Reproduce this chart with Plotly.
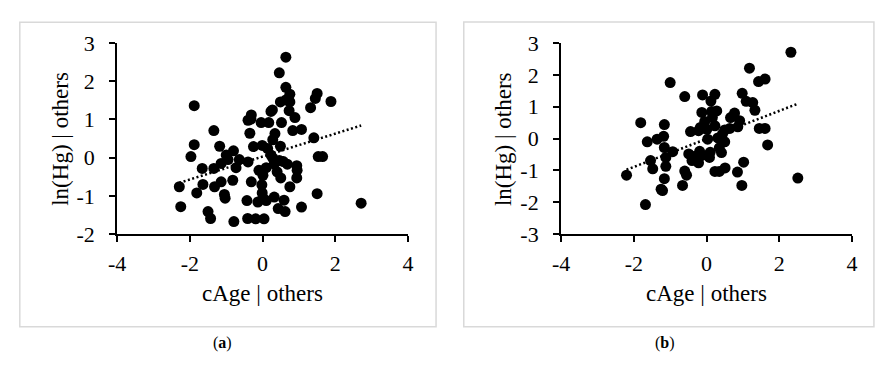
import numpy as np
import plotly.graph_objects as go

# ---- data ----
xa = [0.64, 0.46, 0.64, 0.75, 0.49, 0.64, 0.75, 1.50, 1.45, 1.88, 1.32, -1.88, 0.73, 0.23, 0.27,
      -0.31, -0.32, -0.40, -0.04, 0.17, 0.52, 0.89, 0.83, 1.07, -1.34, -0.35, 0.34, 0.28, 1.41,
      -1.88, -1.18, -0.25, -0.01, 0.14, 0.49, -1.97, -0.80, -1.00, 0.23, 0.28, 1.53, 1.65,
      -1.14, -0.95, -0.64, -0.40, 0.32, 0.46, 0.68, 0.57, 0.94, 0.95, -1.66, -1.34, -0.73,
      -0.10, 0.10, 0.01, 0.40, 0.50, 0.94, -2.29, -1.64, -1.32, -1.14, -0.82, -0.31, -0.02,
      0.75, -1.81, -1.05, -1.03, -0.01, 0.32, 1.50, -0.43, -0.13, 0.10, 0.01, 0.59, 2.71,
      -2.25, 0.43, 0.62, 1.07, -1.50, -1.43, -0.79, -0.41, -0.19, 0.04]
ya = [2.63, 2.22, 1.84, 1.66, 1.46, 1.51, 1.46, 1.68, 1.55, 1.47, 1.31, 1.36, 1.23, 1.21, 1.25,
      1.12, 1.01, 0.98, 0.92, 0.92, 0.92, 1.05, 0.71, 0.74, 0.71, 0.64, 0.63, 0.47, 0.52,
      0.34, 0.30, 0.29, 0.32, 0.24, 0.30, 0.03, 0.18, 0.07, 0.07, -0.01, 0.03, 0.03,
      -0.15, -0.05, -0.05, -0.11, -0.17, -0.07, -0.17, -0.10, -0.21, -0.33, -0.28, -0.28, -0.26,
      -0.33, -0.26, -0.46, -0.37, -0.53, -0.53, -0.76, -0.70, -0.76, -0.63, -0.59, -0.63, -0.71,
      -0.76, -0.92, -0.96, -1.06, -0.92, -1.03, -0.94, -1.12, -1.16, -1.12, -1.05, -1.11, -1.19,
      -1.28, -1.33, -1.41, -1.29, -1.41, -1.59, -1.67, -1.59, -1.60, -1.60]

xb = [2.32, 1.18, 1.43, 1.61, -1.00, -0.60, -0.11, 0.23, 0.12, 0.98, 1.09, 1.27, 1.33, -0.13,
      0.14, 0.28, 0.77, 0.66, -1.81, -1.16, -0.05, 0.16, 0.91, 0.23, -0.17, -0.44, -0.22, 0.01,
      0.86, 0.50, 0.64, 1.45, 1.61, 0.44, -1.18, -1.36, -1.63, 0.03, 0.31, 0.50, 0.35, -1.16,
      -0.93, 1.68, -0.49, -0.19, 0.10, 0.41, -1.12, -0.35, -0.13, 0.08, -1.54, -0.22, -0.40,
      -1.48, -1.12, 1.02, -0.60, -0.55, 0.23, 0.35, 0.51, 0.85, -2.20, -1.16, -0.66, 0.97,
      2.51, -1.25, -1.21, -1.68]
yb = [2.71, 2.21, 1.79, 1.87, 1.76, 1.32, 1.37, 1.39, 1.18, 1.42, 1.17, 1.13, 0.89, 0.82,
      0.85, 0.87, 0.80, 0.66, 0.50, 0.44, 0.54, 0.66, 0.56, 0.40, 0.35, 0.22, 0.25, 0.29,
      0.37, 0.27, 0.32, 0.32, 0.32, 0.15, 0.07, -0.02, -0.10, -0.02, 0.02, -0.10, -0.29, -0.28,
      -0.41, -0.20, -0.48, -0.40, -0.43, -0.44, -0.59, -0.56, -0.53, -0.59, -0.69, -0.76, -0.69,
      -0.95, -0.87, -0.74, -1.02, -1.15, -1.03, -1.03, -0.92, -1.05, -1.15, -1.26, -1.47, -1.47,
      -1.24, -1.59, -1.63, -2.07]

# linear trendlines (slope, intercept)
trend_a = (0.30, 0.03)
trend_b = (0.44, -0.01)

x_ticks = [-4, -2, 0, 2, 4]
x_ticktext = ["-4", "-2", "0", "2", "4"]
ya_ticks = [-2, -1, 0, 1, 2, 3]
ya_ticktext = ["-2", "-1", "0", "1", "2", "3"]
yb_ticks = [-3, -2, -1, 0, 1, 2, 3]
yb_ticktext = ["-3", "-2", "-1", "0", "1", "2", "3"]

x_title = "cAge | others"
y_title = "ln(Hg) | others"
captions = ["(<b>a</b>)", "(<b>b</b>)"]

# ---- figure ----
W, H = 876, 365
FONT = "Liberation Serif"

fig = go.Figure()

def trend_xy(x, coef):
    xs = np.array([min(x), max(x)])
    return xs, coef[0] * xs + coef[1]

for (xs, ys, coef, xa_id, ya_id) in [(xa, ya, trend_a, "x", "y"), (xb, yb, trend_b, "x2", "y2")]:
    fig.add_trace(go.Scatter(x=xs, y=ys, mode="markers", xaxis=xa_id, yaxis=ya_id,
                             marker=dict(size=11, color="black"), showlegend=False,
                             hoverinfo="skip"))
    tx, ty = trend_xy(xs, coef)
    fig.add_trace(go.Scatter(x=tx, y=ty, mode="lines", xaxis=xa_id, yaxis=ya_id,
                             line=dict(color="black", width=2.5, dash="2px,2.5px"),
                             showlegend=False, hoverinfo="skip"))

def px_x(p):
    return p / W

def px_y(p):
    return 1 - p / H

axis_common = dict(showline=True, linecolor="black", linewidth=2, mirror=False,
                   ticks="outside", ticklen=6, tickwidth=1.5, tickcolor="black",
                   showgrid=False, zeroline=False,
                   tickfont=dict(family=FONT, size=22, color="black"))

fig.update_layout(
    width=W, height=H,
    margin=dict(l=0, r=0, t=0, b=0),
    paper_bgcolor="white", plot_bgcolor="white",
    font=dict(family=FONT, color="black"),
    xaxis=dict(domain=[px_x(110), px_x(406)], range=[-4, 4], tickvals=x_ticks,
               ticktext=x_ticktext, anchor="y", ticklabelstandoff=2, **axis_common),
    yaxis=dict(domain=[px_y(238.5), px_y(33.3)], range=[-2, 3], tickvals=ya_ticks,
               ticktext=ya_ticktext, anchor="x", ticklabelstandoff=10, **axis_common),
    xaxis2=dict(domain=[px_x(561.7), px_x(857.7)], range=[-4, 4], tickvals=x_ticks,
                ticktext=x_ticktext, anchor="y2", ticklabelstandoff=2, **axis_common),
    yaxis2=dict(domain=[px_y(238.5), px_y(33.3)], range=[-3, 3], tickvals=yb_ticks,
                ticktext=yb_ticktext, anchor="x2", ticklabelstandoff=10, **axis_common),
)

# panel boxes
fig.add_shape(type="rect", xref="paper", yref="paper",
              x0=px_x(11), x1=px_x(434.5), y0=px_y(338), y1=px_y(11),
              line=dict(color="#d9d9d9", width=1.5), layer="below")
fig.add_shape(type="rect", xref="paper", yref="paper",
              x0=px_x(462.7), x1=px_x(880), y0=px_y(338), y1=px_y(10.7),
              line=dict(color="#d9d9d9", width=1.5), layer="below")

tfont = dict(family=FONT, size=23, color="black")
# axis titles
for cx, cy_x in [(258, 302), (709.7, 302)]:
    fig.add_annotation(text=x_title, xref="paper", yref="paper", x=px_x(cx), y=px_y(cy_x),
                       showarrow=False, font=tfont, xanchor="center", yanchor="middle")
for cx in [53, 503]:
    fig.add_annotation(text=y_title, xref="paper", yref="paper", x=px_x(cx), y=px_y(136),
                       showarrow=False, font=tfont, textangle=-90,
                       xanchor="center", yanchor="middle")
# captions
for cx, txt in zip([217, 667], captions):
    fig.add_annotation(text=txt, xref="paper", yref="paper", x=px_x(cx), y=px_y(355),
                       showarrow=False, font=dict(family=FONT, size=16, color="black"),
                       xanchor="center", yanchor="middle")

fig.write_html("out.html", config={"displayModeBar": False},
               post_script="document.body.style.margin='0px';")
